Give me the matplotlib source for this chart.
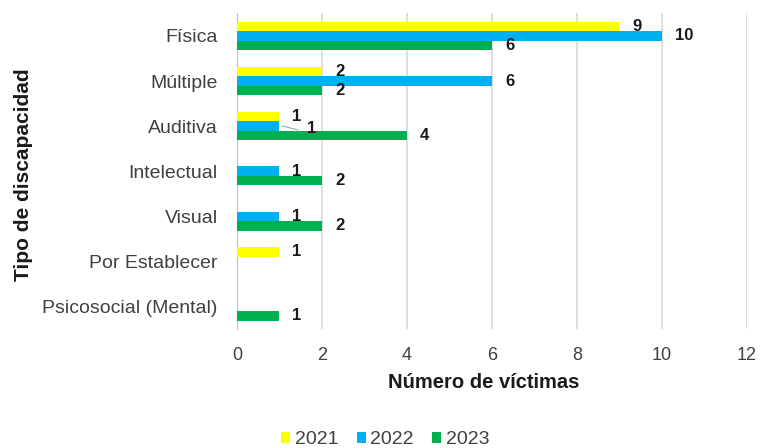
import numpy as np
import matplotlib.pyplot as plt

plt.rcParams['font.family'] = ['Liberation Sans', 'DejaVu Sans']

tipos = ['Física', 'Múltiple', 'Auditiva', 'Intelectual', 'Visual',
         'Por Establecer', 'Psicosocial (Mental)']
v2021 = [9, 2, 1, np.nan, np.nan, 1, np.nan]
v2022 = [10, 6, 1, 1, 1, np.nan, np.nan]
v2023 = [6, 2, 4, 2, 2, np.nan, 1]
anios = ['2021', '2022', '2023']
colores = ['#ffff00', '#00b0f0', '#00b050']

fig = plt.figure(figsize=(7.63, 4.48), dpi=100)
ax = fig.add_axes([0.3106, 0.2656, 0.6684, 0.7044])

y = np.arange(len(tipos))
h = 0.21
series = [v2021, v2022, v2023]
for k, (vals, col, lab) in enumerate(zip(series, colores, anios)):
    ax.barh(y + (k - 1) * h, vals, height=h, color=col, label=lab, zorder=3)

# etiquetas de valor a la derecha de cada barra
for k, vals in enumerate(series):
    for i, v in enumerate(vals):
        if np.isnan(v):
            continue
        dx, dy = 13, 0
        if k == 1 and i == 2:
            dx, dy = 28, -2
        ax.annotate(str(int(v)), (v, y[i] + (k - 1) * h), xytext=(dx, dy),
                    textcoords='offset pixels',
                    ha='left', va='center', fontsize=12, fontweight='bold',
                    color='#1a1a1a', zorder=4)
# linea guia de Auditiva 2022
ax.annotate('', xy=(1.0, 2 - 0.02), xytext=(1.5, 2 + 0.1),
            arrowprops=dict(arrowstyle='-', color='#a6a6a6', lw=0.8))

ax.set_xlim(0, 12)
ax.set_xticks(range(0, 13, 2))
ax.set_ylim(len(tipos) - 0.5, -0.5)
ax.set_yticks(y)
ax.set_yticklabels(tipos)
ax.xaxis.grid(True, color='#d9d9d9', lw=1.2, zorder=0)
for s in ['top', 'right', 'bottom']:
    ax.spines[s].set_visible(False)
ax.spines['left'].set_color('#bfbfbf')
ax.tick_params(axis='x', length=0, labelsize=13, labelcolor='#404040', pad=13)
ax.tick_params(axis='y', length=0, labelsize=14, labelcolor='#404040', pad=14)

ax.set_xlabel('Número de víctimas', fontsize=14.5, fontweight='bold',
              color='#1a1a1a', va='top')
ax.xaxis.set_label_coords(0.484, -0.14)
ax.set_ylabel('Tipo de discapacidad', fontsize=15, fontweight='bold',
              color='#1a1a1a')
ax.yaxis.set_label_coords(-0.40, 0.49)

fig.legend(loc='lower center', ncol=3, bbox_to_anchor=(0.505, -0.04),
           frameon=False, fontsize=14, handlelength=0.45, handleheight=0.45,
           handletextpad=0.25, columnspacing=0.95, labelcolor='#404040')

fig.savefig('out.png', dpi=100)
